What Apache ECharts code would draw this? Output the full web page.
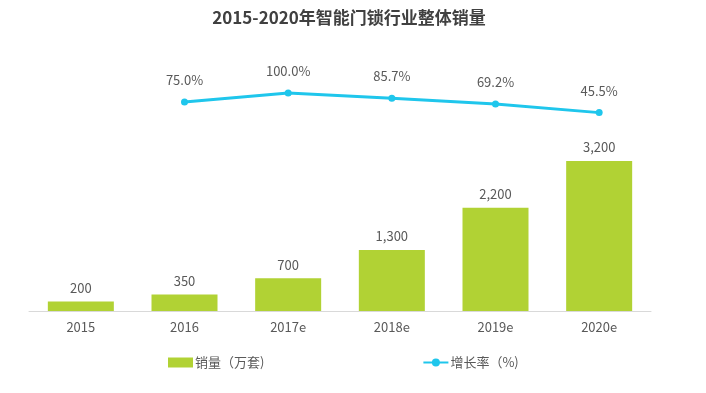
<!DOCTYPE html>
<html><head><meta charset="utf-8">
<script src="https://cdn.jsdelivr.net/npm/echarts@6/dist/echarts.min.js"></script>
<style>html,body{margin:0;padding:0;background:#fff}#c{width:706px;height:393px}</style>
</head><body><div id="c"></div>
<script>
const categories = ['2015','2016','2017e','2018e','2019e','2020e'];
const sales = [200, 350, 700, 1300, 2200, 3200];
const growth = [null, 75.0, 100.0, 85.7, 69.2, 45.5];
const font = '"Microsoft YaHei","Noto Sans CJK SC","Noto Sans",sans-serif';
const chart = echarts.init(document.getElementById('c'));
chart.setOption({
  animation: false,
  textStyle: {fontFamily: font},
  title: {text: '2015-2020年智能门锁行业整体销量', left: 344, textAlign: 'center', top: 4,
    textStyle: {fontSize: 17, fontWeight: 'bold', color: '#404040', fontFamily: font}},
  legend: {top: 351, left: 163, itemGap: 158, itemWidth: 25, itemHeight: 10,
    textStyle: {fontSize: 13, color: '#595959', fontFamily: font, padding: [0, 0, 0, -3]},
    data: [{name: '销量（万套)', icon: 'rect'}, {name: '增长率（%)'}]},
  grid: [
    {left: 29, right: 55, top: 76.6, bottom: 82},
    {left: 29, right: 55, top: 57, bottom: 264}
  ],
  xAxis: [
    {type: 'category', data: categories, gridIndex: 0,
     axisLine: {lineStyle: {color: '#d9d9d9'}}, axisTick: {show: false},
     axisLabel: {color: '#595959', fontSize: 13, margin: 10}},
    {type: 'category', data: categories, gridIndex: 1, show: false}
  ],
  yAxis: [
    {type: 'value', gridIndex: 0, min: 0, max: 5000, show: false, splitLine: {show: false}},
    {type: 'value', gridIndex: 1, min: 0, max: 200, show: false, splitLine: {show: false}}
  ],
  series: [
    {name: '销量（万套)', type: 'bar', data: sales, barWidth: 66, xAxisIndex: 0, yAxisIndex: 0,
     itemStyle: {color: '#b1d234'},
     label: {show: true, position: 'top', distance: 7, color: '#595959', fontSize: 13,
       formatter: p => p.value.toLocaleString('en-US')}},
    {name: '增长率（%)', type: 'line', data: growth, xAxisIndex: 1, yAxisIndex: 1,
     symbol: 'circle', symbolSize: 7,
     lineStyle: {color: '#1fc6ec', width: 3}, itemStyle: {color: '#1fc6ec'},
     label: {show: true, position: 'top', distance: 12, color: '#595959', fontSize: 13,
       formatter: p => p.value.toFixed(1) + '%'}}
  ]
});
</script></body></html>
